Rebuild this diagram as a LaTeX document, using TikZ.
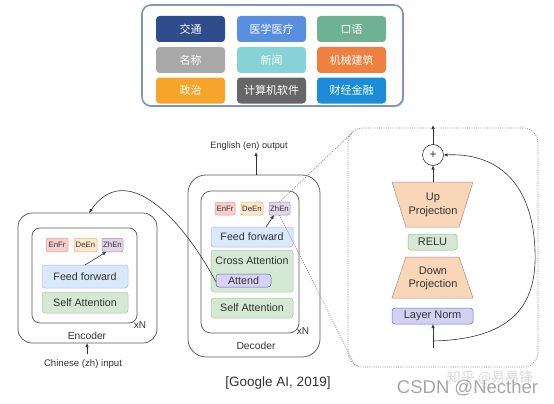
\documentclass[tikz,border=0pt]{standalone}
\usepackage{fontspec}
\setmainfont{Liberation Sans}
\newfontfamily\cjk{Noto Sans CJK SC}
\usetikzlibrary{arrows.meta,calc,shadows}
\definecolor{txt}{HTML}{333333}
\definecolor{frm}{HTML}{5A5A5A}
\definecolor{ln}{HTML}{333333}
\definecolor{tbD}{HTML}{7F95B8}
\definecolor{tbS}{HTML}{8EA0BF}
\definecolor{rF}{HTML}{F8CECC}
\definecolor{rD}{HTML}{D79B9A}
\definecolor{oF}{HTML}{FFE6CC}
\definecolor{oD}{HTML}{E3B56E}
\definecolor{pF}{HTML}{E1D5E7}
\definecolor{pD}{HTML}{A38BB8}
\definecolor{ffF}{HTML}{DAE8FC}
\definecolor{ffD}{HTML}{A7C0E6}
\definecolor{saF}{HTML}{D5E8D4}
\definecolor{saD}{HTML}{A4C8A0}
\definecolor{atF}{HTML}{D6D3F7}
\definecolor{atD}{HTML}{6A62A8}
\definecolor{prF}{HTML}{F9D6B8}
\definecolor{prD}{HTML}{B08F78}
\definecolor{reD}{HTML}{8CBF80}
\definecolor{lnF}{HTML}{D3D1F3}
\definecolor{lnD}{HTML}{7470B5}
\definecolor{dotc}{HTML}{8A8A8A}
\definecolor{wmA}{HTML}{A6A6A6}
\definecolor{wmB}{HTML}{D9D9D9}
\definecolor{cJT}{HTML}{2F4C8C}
\definecolor{cYX}{HTML}{5A8FE0}
\definecolor{cKY}{HTML}{6FB193}
\definecolor{cMC}{HTML}{A9A9A9}
\definecolor{cXW}{HTML}{86D2D6}
\definecolor{cJX}{HTML}{F08040}
\definecolor{cZZ}{HTML}{F7A52A}
\definecolor{cJS}{HTML}{666666}
\definecolor{cCJ}{HTML}{1A8CD8}
\begin{document}
\begin{tikzpicture}[x=1pt,y=-1pt,
 every node/.style={text=txt, inner sep=0pt, outer sep=0pt},
 cbox/.style={rounded corners=3.5pt, minimum width=69pt, minimum height=26pt, text=white, font=\cjk\fontsize{11}{13}\selectfont},
 frame/.style={draw=frm, line width=0.75pt, fill=white},
 langbox/.style={rounded corners=2pt, minimum height=13.5pt, line width=0.5pt, font=\fontsize{7.8}{9}\selectfont},
 layer/.style={rounded corners=3pt, line width=0.5pt, font=\fontsize{10.7}{12}\selectfont},
 ffbox/.style={layer, fill=ffF, draw=ffD},
 sabox/.style={layer, fill=saF, draw=saD},
 lbl/.style={font=\fontsize{10.3}{12}\selectfont},
 arr/.style={-{Latex[length=4pt,width=3.4pt]}, line width=0.6pt, draw=ln},
 dotline/.style={draw=dotc, line width=0.8pt, dash pattern=on 0.9pt off 1.3pt},
 proj/.style={fill=prF, draw=prD, line width=0.5pt},
 projtext/.style={font=\fontsize{11}{13.5}\selectfont, align=center},
]
\useasboundingbox (0,0) rectangle (554,404);
\fill[white] (0,0) rectangle (554,404);

% ---- top panel of domains
\node[draw=tbD, line width=1.6pt, rounded corners=9pt, fill=white, minimum width=261pt, minimum height=101pt,
      drop shadow={shadow xshift=1.2pt, shadow yshift=-1.2pt, fill=tbS, opacity=0.6}] (panel) at (272.5,55.5) {};
\node[cbox, fill=cJT] (jt) at (190.5,29) {交通};
\node[cbox, fill=cYX] (yx) at (271.5,29) {医学医疗};
\node[cbox, fill=cKY] (ky) at (351.5,29) {口语};
\node[cbox, fill=cMC] (mc) at (190.5,60) {名称};
\node[cbox, fill=cXW] (xw) at (271.5,60) {新闻};
\node[cbox, fill=cJX] (jx) at (351.5,60) {机械建筑};
\node[cbox, fill=cZZ] (zz) at (190.5,90.5) {政治};
\node[cbox, fill=cJS] (js) at (271.5,90.5) {计算机软件};
\node[cbox, fill=cCJ] (cj) at (351.5,90.5) {财经金融};

% ---- encoder
\node[frame, rounded corners=14pt, minimum width=139pt, minimum height=130pt] (enc) at (87.5,278) {};
\node[frame, rounded corners=8pt, minimum width=105pt, minimum height=95pt] (encin) at (84.5,275.5) {};
\node[langbox, fill=rF, draw=rD, minimum width=22pt] (enfrA) at (57,245) {EnFr};
\node[langbox, fill=oF, draw=oD, minimum width=23pt] (deenA) at (85.5,245) {DeEn};
\node[langbox, fill=pF, draw=pD, minimum width=21pt] (zhenA) at (112.5,245) {ZhEn};
\node[ffbox, minimum width=86pt, minimum height=23pt] (ffA) at (85,276.5) {Feed forward};
\node[sabox, minimum width=86pt, minimum height=21pt] (saA) at (85,302.5) {Self Attention};
\node[font=\fontsize{10}{12}\selectfont] (xnA) at (140,325) {xN};
\node[lbl] (enclbl) at (87,336) {Encoder};
\node[font=\fontsize{9.6}{11}\selectfont] (zhin) at (83,364) {Chinese (zh) input};
\coordinate (zhtail) at (87,354);
\draw[arr] (zhtail) -- (zhtail |- enc.south);
\draw[arr] (ffA.north) -- ($(zhenA.south)+(-6,0)$);

% ---- decoder
\node[frame, rounded corners=18pt, minimum width=132pt, minimum height=182pt] (dec) at (254,266) {};
\node[frame, rounded corners=10pt, minimum width=98pt, minimum height=142pt] (decin) at (250,262) {};
\node[langbox, fill=rF, draw=rD, minimum width=20pt, minimum height=13pt] (enfrB) at (225,208.5) {EnFr};
\node[langbox, fill=oF, draw=oD, minimum width=22pt, minimum height=13pt] (deenB) at (252,208.5) {DeEn};
\node[langbox, fill=pF, draw=pD, minimum width=21pt, minimum height=13pt] (zhenB) at (279.5,208.5) {ZhEn};
\node[ffbox, minimum width=82pt, minimum height=20pt] (ffB) at (252,237) {Feed forward};
\node[sabox, minimum width=82pt, minimum height=42pt] (cross) at (252,271) {};
\node[font=\fontsize{10.7}{12}\selectfont] (crosslbl) at (252,261) {Cross Attention};
\node[layer, fill=atF, draw=atD, minimum width=55pt, minimum height=13pt] (attend) at (243.5,280.5) {Attend};
\node[sabox, minimum width=82pt, minimum height=20pt] (saB) at (252,308) {Self Attention};
\node[font=\fontsize{10}{12}\selectfont] (xnB) at (303,331) {xN};
\node[lbl] (declbl) at (256,346) {Decoder};
\node[font=\fontsize{9.2}{11}\selectfont] (enout) at (249,146) {English (en) output};
\coordinate (outtop) at (256,152);
\draw[arr] (outtop |- dec.north) -- (outtop);
\draw[arr] ($(ffB.north)+(14,0)$) -- ($(zhenB.south)+(-5.5,0)$);

% ---- cross connection to encoder
\draw[arr] ($(attend.west)+(0,1.5)$) .. controls (180,215) and (125,160) .. ($(enc.north)+(1.5,0)$);

% ---- adapter detail
\node[dotline, rounded corners=15pt, minimum width=190pt, minimum height=239pt] (adapter) at (443,247.5) {};
\draw[dotline] (zhenB.north) -- ($(adapter.north west)+(5,4)$);
\draw[dotline] (zhenB.south) -- ($(adapter.south west)+(7,-1.5)$);

\node[circle, draw=ln, line width=0.6pt, fill=white, minimum size=21pt, font=\fontsize{12}{12}\selectfont] (plus) at (433,155) {+};
\coordinate (adout) at (433,125);
\draw[arr] (plus.north) -- (adout);

\draw[proj] (392,182) -- (473,182) -- (459,227) -- (406,227) -- cycle;
\node[projtext] (up) at (433,205) {Up\\Projection};
\coordinate (uptop) at (433,182);
\draw[arr] (uptop) -- (plus.south);

\node[layer, fill=saF, draw=reD, minimum width=49pt, minimum height=16pt, font=\fontsize{11}{12}\selectfont] (relu) at (432.5,242) {RELU};

\draw[proj] (406,257) -- (459,257) -- (473,298) -- (392,298) -- cycle;
\node[projtext] (down) at (433,278.5) {Down\\Projection};

\node[layer, fill=lnF, draw=lnD, minimum width=81pt, minimum height=16pt, font=\fontsize{11}{12}\selectfont] (lnorm) at (432.5,316) {Layer Norm};
\coordinate (adin) at (433,348);
\draw[arr] (adin) -- (adin |- lnorm.south);
\coordinate (skip) at (433,341);
\draw[arr] (skip) .. controls (518,339) and (537,300) .. (535,250) .. controls (532,175) and (490,153) .. (plus.east);

% ---- caption and watermarks
\node[font=\fontsize{13.5}{15}\selectfont] (cap) at (278,383) {[Google AI, 2019]};
\node[font=\cjk\fontsize{14}{15}\selectfont, text=wmB] (zhwm) at (490,378) {知乎 @易易锋};
\node[font=\fontsize{18.5}{20}\selectfont, text=wmA, anchor=base] (csdn) at (467.5,393) {CSDN @Necther};
\end{tikzpicture}
\end{document}
